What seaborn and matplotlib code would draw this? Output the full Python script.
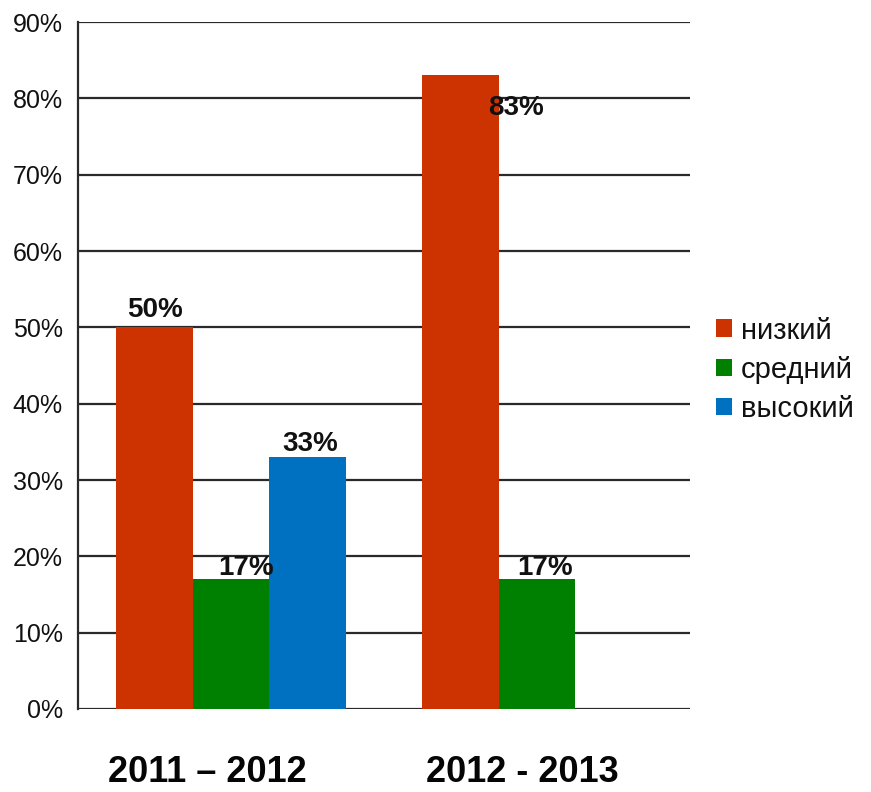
import matplotlib
matplotlib.use("Agg")
import matplotlib.pyplot as plt
import matplotlib.transforms as mtransforms
import seaborn as sns
import pandas as pd

# Data
periods = ["2011 – 2012", "2012 - 2013"]
levels = ["низкий", "средний", "высокий"]
low = [50, 83]
mid = [17, 17]
high = [33, 0]

colors = ["#CC3300", "#008000", "#0070C0"]

rows = []
for i, p in enumerate(periods):
    for lvl, vals in zip(levels, [low, mid, high]):
        rows.append({"period": p, "level": lvl, "value": vals[i]})
df = pd.DataFrame(rows)

sns.set_theme(style="white")
plt.rcParams["font.family"] = ["Liberation Sans", "DejaVu Sans"]

fig = plt.figure(figsize=(8.71, 7.92), dpi=100)
ax = fig.add_axes([0.0896, 0.1048, 0.7026, 0.8674])

sns.barplot(data=df, x="period", y="value", hue="level", order=periods,
            hue_order=levels, palette=colors, width=0.75, gap=0,
            linewidth=0, saturation=1, ax=ax, legend=True)

ax.set_ylim(0, 90)
ax.set_xlim(-0.5, 1.5)
ax.set_yticks(range(0, 91, 10))
ax.set_yticklabels([f"{v}%" for v in range(0, 91, 10)], fontsize=18, color="#111111")
ax.tick_params(axis="y", length=0, pad=11)
ax.tick_params(axis="x", length=0, pad=33)
ax.set_xticklabels(periods, fontsize=26, fontweight="bold", color="#050505")
# shift category labels slightly left of the group centers
shifts = [-24, -15]
for lab, dx in zip(ax.get_xticklabels(), shifts):
    lab.set_transform(lab.get_transform() +
                      mtransforms.ScaledTranslation(dx / 100, 0, fig.dpi_scale_trans))

ax.set_xlabel("")
ax.set_ylabel("")
ax.set_axisbelow(True)
ax.yaxis.grid(True, color="#2a2a2a", linewidth=1.6)
ax.xaxis.grid(False)
for side in ["top", "right"]:
    ax.spines[side].set_visible(False)
ax.spines["bottom"].set_visible(False)
ax.spines["left"].set_color("#2a2a2a")
ax.spines["left"].set_linewidth(1.6)

# value labels with per-bar offsets (points)
label_offsets = {
    ("низкий", 0): (0, 3, "bottom"),
    ("средний", 0): (11, -1, "bottom"),
    ("высокий", 0): (2, 0, "bottom"),
    ("низкий", 1): (40, -14, "top"),
    ("средний", 1): (6, -1, "bottom"),
}
for lvl, cont, vals in zip(levels, ax.containers, [low, mid, high]):
    for i, (bar, v) in enumerate(zip(cont, vals)):
        if v == 0:
            continue
        dx, dy, va = label_offsets[(lvl, i)]
        ax.annotate(f"{v}%", (bar.get_x() + bar.get_width() / 2, v),
                    xytext=(dx, dy), textcoords="offset points",
                    ha="center", va=va, fontsize=20, fontweight="bold",
                    color="#111111", zorder=5)

leg = ax.legend(loc="center left", bbox_to_anchor=(1.043, 0.494), frameon=False,
                fontsize=21, handlelength=0.55, handleheight=0.55,
                handletextpad=0.3, labelspacing=0.38, borderpad=0, borderaxespad=0)
for t in leg.get_texts():
    t.set_color("#111111")

fig.savefig("out.png", dpi=100, facecolor="white")
